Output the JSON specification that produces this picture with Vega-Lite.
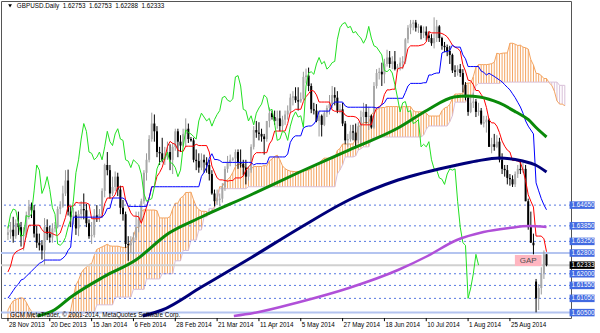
{
"$schema":"https://vega.github.io/schema/vega-lite/v6.json",
"width":570,"height":317,
"autosize":{"type":"none"},
"padding":{"left":1,"top":1,"right":29,"bottom":15},
"background":"#ffffff",
"config":{"font":"Liberation Sans","view":{"stroke":"#555555","strokeWidth":1},"axis":{"grid":false,"domain":false,"labelFont":"Liberation Sans","labelColor":"#000000","tickColor":"#000000","tickSize":3,"labelFontSize":6.3}},
"datasets":{
"bars":[
{"i":0,"o":1.635,"h":1.6385,"l":1.633,"c":1.636,"t":1.6207,"k":1.6106,"ch":1.6375},
{"i":1,"o":1.636,"h":1.64,"l":1.6335,"c":1.637,"t":1.623,"k":1.612,"ch":1.643},
{"i":2,"o":1.637,"h":1.642,"l":1.632,"c":1.6345,"t":1.627,"k":1.6135,"ch":1.645},
{"i":3,"o":1.6345,"h":1.641,"l":1.6335,"c":1.6395,"t":1.6284,"k":1.615,"ch":1.6445},
{"i":4,"o":1.6395,"h":1.644,"l":1.635,"c":1.638,"t":1.629,"k":1.616,"ch":1.6395},
{"i":5,"o":1.638,"h":1.64,"l":1.6305,"c":1.6345,"t":1.6295,"k":1.6176,"ch":1.6345},
{"i":6,"o":1.6345,"h":1.638,"l":1.629,"c":1.635,"t":1.6299,"k":1.618,"ch":1.635},
{"i":7,"o":1.635,"h":1.644,"l":1.634,"c":1.6425,"t":1.635,"k":1.619,"ch":1.6425},
{"i":8,"o":1.6425,"h":1.6485,"l":1.641,"c":1.646,"t":1.63875,"k":1.62,"ch":1.642},
{"i":9,"o":1.646,"h":1.6475,"l":1.6415,"c":1.6445,"t":1.63875,"k":1.621,"ch":1.643},
{"i":10,"o":1.6445,"h":1.6465,"l":1.634,"c":1.6355,"t":1.63875,"k":1.622,"ch":1.652},
{"i":11,"o":1.6355,"h":1.6385,"l":1.63,"c":1.632,"t":1.63875,"k":1.623,"ch":1.662},
{"i":12,"o":1.632,"h":1.6355,"l":1.629,"c":1.631,"t":1.63875,"k":1.624,"ch":1.66},
{"i":13,"o":1.631,"h":1.633,"l":1.6255,"c":1.629,"t":1.637,"k":1.6245,"ch":1.651},
{"i":14,"o":1.629,"h":1.6415,"l":1.6235,"c":1.638,"t":1.636,"k":1.6253,"ch":1.6535},
{"i":15,"o":1.638,"h":1.641,"l":1.633,"c":1.6355,"t":1.636,"k":1.6253,"ch":1.6575},
{"i":16,"o":1.6355,"h":1.6385,"l":1.632,"c":1.634,"t":1.636,"k":1.6253,"ch":1.6525},
{"i":17,"o":1.634,"h":1.6395,"l":1.632,"c":1.6375,"t":1.6355,"k":1.6253,"ch":1.6455},
{"i":18,"o":1.6375,"h":1.64,"l":1.636,"c":1.638,"t":1.635,"k":1.6253,"ch":1.643},
{"i":19,"o":1.638,"h":1.646,"l":1.6375,"c":1.645,"t":1.63475,"k":1.6253,"ch":1.6315},
{"i":20,"o":1.645,"h":1.648,"l":1.643,"c":1.646,"t":1.63575,"k":1.6253,"ch":1.631},
{"i":21,"o":1.646,"h":1.654,"l":1.6455,"c":1.651,"t":1.63875,"k":1.626,"ch":1.632},
{"i":22,"o":1.651,"h":1.66,"l":1.65,"c":1.656,"t":1.64175,"k":1.627,"ch":1.634},
{"i":23,"o":1.656,"h":1.6602,"l":1.6425,"c":1.644,"t":1.6461,"k":1.629,"ch":1.638},
{"i":24,"o":1.644,"h":1.646,"l":1.638,"c":1.642,"t":1.6461,"k":1.6303,"ch":1.641},
{"i":25,"o":1.642,"h":1.6455,"l":1.639,"c":1.6425,"t":1.6461,"k":1.64185,"ch":1.648},
{"i":26,"o":1.6425,"h":1.644,"l":1.635,"c":1.6375,"t":1.6476,"k":1.64185,"ch":1.659},
{"i":27,"o":1.6375,"h":1.6445,"l":1.6345,"c":1.643,"t":1.64735,"k":1.64185,"ch":1.664},
{"i":28,"o":1.643,"h":1.648,"l":1.641,"c":1.645,"t":1.64735,"k":1.64185,"ch":1.672},
{"i":29,"o":1.645,"h":1.651,"l":1.641,"c":1.6445,"t":1.64735,"k":1.64185,"ch":1.678},
{"i":30,"o":1.6445,"h":1.647,"l":1.638,"c":1.6395,"t":1.64735,"k":1.64185,"ch":1.675},
{"i":31,"o":1.6395,"h":1.641,"l":1.6335,"c":1.6345,"t":1.64685,"k":1.64185,"ch":1.667},
{"i":32,"o":1.6345,"h":1.64,"l":1.6315,"c":1.635,"t":1.64125,"k":1.64185,"ch":1.6665},
{"i":33,"o":1.635,"h":1.645,"l":1.634,"c":1.6425,"t":1.64125,"k":1.64185,"ch":1.664},
{"i":34,"o":1.6425,"h":1.6465,"l":1.64,"c":1.642,"t":1.64125,"k":1.64185,"ch":1.665},
{"i":35,"o":1.642,"h":1.645,"l":1.64,"c":1.643,"t":1.64125,"k":1.64185,"ch":1.667},
{"i":36,"o":1.643,"h":1.653,"l":1.6415,"c":1.652,"t":1.64225,"k":1.64185,"ch":1.664},
{"i":37,"o":1.652,"h":1.6625,"l":1.6495,"c":1.662,"t":1.647,"k":1.643,"ch":1.669},
{"i":38,"o":1.662,"h":1.667,"l":1.658,"c":1.66,"t":1.64925,"k":1.64525,"ch":1.675},
{"i":39,"o":1.66,"h":1.662,"l":1.649,"c":1.651,"t":1.64925,"k":1.64525,"ch":1.671},
{"i":40,"o":1.651,"h":1.6575,"l":1.65,"c":1.6535,"t":1.64925,"k":1.64925,"ch":1.6695},
{"i":41,"o":1.6535,"h":1.6595,"l":1.652,"c":1.6575,"t":1.6505,"k":1.64925,"ch":1.674},
{"i":42,"o":1.6575,"h":1.659,"l":1.65,"c":1.6525,"t":1.6535,"k":1.64925,"ch":1.676},
{"i":43,"o":1.6525,"h":1.654,"l":1.643,"c":1.6455,"t":1.6535,"k":1.64925,"ch":1.672},
{"i":44,"o":1.6455,"h":1.6485,"l":1.6405,"c":1.643,"t":1.65375,"k":1.64925,"ch":1.6715},
{"i":45,"o":1.643,"h":1.644,"l":1.63,"c":1.6315,"t":1.6485,"k":1.6485,"ch":1.664},
{"i":46,"o":1.6315,"h":1.6345,"l":1.625,"c":1.631,"t":1.646,"k":1.646,"ch":1.6635},
{"i":47,"o":1.631,"h":1.6345,"l":1.628,"c":1.632,"t":1.6435,"k":1.646,"ch":1.661},
{"i":48,"o":1.632,"h":1.636,"l":1.625,"c":1.634,"t":1.64225,"k":1.646,"ch":1.664},
{"i":49,"o":1.634,"h":1.644,"l":1.633,"c":1.638,"t":1.64225,"k":1.646,"ch":1.663},
{"i":50,"o":1.638,"h":1.644,"l":1.636,"c":1.641,"t":1.642,"k":1.646,"ch":1.662},
{"i":51,"o":1.641,"h":1.649,"l":1.64,"c":1.648,"t":1.6395,"k":1.646,"ch":1.6585},
{"i":52,"o":1.648,"h":1.66,"l":1.647,"c":1.659,"t":1.6425,"k":1.646,"ch":1.651},
{"i":53,"o":1.659,"h":1.6665,"l":1.656,"c":1.664,"t":1.64575,"k":1.646,"ch":1.648},
{"i":54,"o":1.664,"h":1.6735,"l":1.663,"c":1.672,"t":1.64925,"k":1.64925,"ch":1.6485},
{"i":55,"o":1.672,"h":1.6822,"l":1.671,"c":1.678,"t":1.6536,"k":1.6536,"ch":1.649},
{"i":56,"o":1.678,"h":1.6815,"l":1.671,"c":1.675,"t":1.6536,"k":1.6536,"ch":1.6535},
{"i":57,"o":1.675,"h":1.677,"l":1.665,"c":1.667,"t":1.6576,"k":1.6536,"ch":1.6605},
{"i":58,"o":1.667,"h":1.669,"l":1.662,"c":1.6665,"t":1.6591,"k":1.6536,"ch":1.663},
{"i":59,"o":1.6665,"h":1.6725,"l":1.663,"c":1.664,"t":1.6611,"k":1.6536,"ch":1.664},
{"i":60,"o":1.664,"h":1.669,"l":1.662,"c":1.665,"t":1.6646,"k":1.6536,"ch":1.6645},
{"i":61,"o":1.665,"h":1.671,"l":1.664,"c":1.667,"t":1.6691,"k":1.6536,"ch":1.667},
{"i":62,"o":1.667,"h":1.67,"l":1.66,"c":1.664,"t":1.6711,"k":1.6536,"ch":1.663},
{"i":63,"o":1.664,"h":1.6705,"l":1.6585,"c":1.669,"t":1.67035,"k":1.6536,"ch":1.6625},
{"i":64,"o":1.669,"h":1.676,"l":1.6675,"c":1.675,"t":1.67,"k":1.6536,"ch":1.661},
{"i":65,"o":1.675,"h":1.676,"l":1.665,"c":1.671,"t":1.66775,"k":1.6536,"ch":1.6575},
{"i":66,"o":1.671,"h":1.6735,"l":1.667,"c":1.6695,"t":1.66725,"k":1.6536,"ch":1.66},
{"i":67,"o":1.6695,"h":1.676,"l":1.669,"c":1.674,"t":1.66725,"k":1.6536,"ch":1.669},
{"i":68,"o":1.674,"h":1.68,"l":1.669,"c":1.676,"t":1.66925,"k":1.6536,"ch":1.6755},
{"i":69,"o":1.676,"h":1.678,"l":1.6705,"c":1.672,"t":1.66925,"k":1.6536,"ch":1.6745},
{"i":70,"o":1.672,"h":1.6728,"l":1.671,"c":1.6715,"t":1.66925,"k":1.6536,"ch":1.674},
{"i":71,"o":1.6715,"h":1.6725,"l":1.663,"c":1.664,"t":1.66925,"k":1.6536,"ch":1.673},
{"i":72,"o":1.664,"h":1.668,"l":1.66,"c":1.6635,"t":1.67,"k":1.6536,"ch":1.672},
{"i":73,"o":1.6635,"h":1.6665,"l":1.659,"c":1.661,"t":1.6695,"k":1.6536,"ch":1.679},
{"i":74,"o":1.661,"h":1.6665,"l":1.66,"c":1.664,"t":1.6695,"k":1.6576,"ch":1.682},
{"i":75,"o":1.664,"h":1.666,"l":1.659,"c":1.663,"t":1.6695,"k":1.6591,"ch":1.6805},
{"i":76,"o":1.663,"h":1.665,"l":1.659,"c":1.662,"t":1.6695,"k":1.6611,"ch":1.679},
{"i":77,"o":1.662,"h":1.664,"l":1.656,"c":1.6585,"t":1.667,"k":1.6646,"ch":1.68},
{"i":78,"o":1.6585,"h":1.66,"l":1.6505,"c":1.651,"t":1.66165,"k":1.66635,"ch":1.677},
{"i":79,"o":1.651,"h":1.6525,"l":1.646,"c":1.648,"t":1.65925,"k":1.6641,"ch":1.6795},
{"i":80,"o":1.648,"h":1.6525,"l":1.6465,"c":1.6485,"t":1.657,"k":1.6641,"ch":1.6815},
{"i":81,"o":1.6485,"h":1.651,"l":1.646,"c":1.649,"t":1.65625,"k":1.66375,"ch":1.683},
{"i":82,"o":1.649,"h":1.655,"l":1.6475,"c":1.6535,"t":1.65625,"k":1.663,"ch":1.688},
{"i":83,"o":1.6535,"h":1.6615,"l":1.652,"c":1.6605,"t":1.656,"k":1.663,"ch":1.6885},
{"i":84,"o":1.6605,"h":1.6655,"l":1.659,"c":1.663,"t":1.65575,"k":1.663,"ch":1.687},
{"i":85,"o":1.663,"h":1.666,"l":1.6615,"c":1.664,"t":1.656,"k":1.663,"ch":1.6865},
{"i":86,"o":1.664,"h":1.665,"l":1.6635,"c":1.6645,"t":1.656,"k":1.663,"ch":1.6875},
{"i":87,"o":1.6645,"h":1.668,"l":1.6615,"c":1.667,"t":1.657,"k":1.663,"ch":1.696},
{"i":88,"o":1.667,"h":1.668,"l":1.6605,"c":1.663,"t":1.657,"k":1.663,"ch":1.6965},
{"i":89,"o":1.663,"h":1.668,"l":1.661,"c":1.6625,"t":1.657,"k":1.663,"ch":1.6925},
{"i":90,"o":1.6625,"h":1.664,"l":1.658,"c":1.661,"t":1.65775,"k":1.663,"ch":1.6835},
{"i":91,"o":1.661,"h":1.664,"l":1.6545,"c":1.6575,"t":1.66,"k":1.663,"ch":1.683},
{"i":92,"o":1.6575,"h":1.6615,"l":1.656,"c":1.66,"t":1.66125,"k":1.663,"ch":1.679},
{"i":93,"o":1.66,"h":1.67,"l":1.659,"c":1.669,"t":1.66225,"k":1.663,"ch":1.681},
{"i":94,"o":1.669,"h":1.677,"l":1.668,"c":1.6755,"t":1.66575,"k":1.662,"ch":1.6775},
{"i":95,"o":1.6755,"h":1.679,"l":1.6725,"c":1.6745,"t":1.66675,"k":1.6625,"ch":1.682},
{"i":96,"o":1.6745,"h":1.6785,"l":1.6715,"c":1.674,"t":1.66675,"k":1.6625,"ch":1.684},
{"i":97,"o":1.674,"h":1.676,"l":1.671,"c":1.673,"t":1.66675,"k":1.6625,"ch":1.6855},
{"i":98,"o":1.673,"h":1.674,"l":1.666,"c":1.672,"t":1.66675,"k":1.6625,"ch":1.689},
{"i":99,"o":1.672,"h":1.679,"l":1.671,"c":1.679,"t":1.66675,"k":1.6625,"ch":1.688},
{"i":100,"o":1.679,"h":1.6842,"l":1.6765,"c":1.682,"t":1.6701,"k":1.6651,"ch":1.683},
{"i":101,"o":1.682,"h":1.683,"l":1.6795,"c":1.6805,"t":1.6716,"k":1.6651,"ch":1.6835},
{"i":102,"o":1.6805,"h":1.683,"l":1.6775,"c":1.679,"t":1.6751,"k":1.6651,"ch":1.678},
{"i":103,"o":1.679,"h":1.683,"l":1.676,"c":1.68,"t":1.6751,"k":1.6651,"ch":1.6715},
{"i":104,"o":1.68,"h":1.683,"l":1.675,"c":1.677,"t":1.6751,"k":1.6651,"ch":1.672},
{"i":105,"o":1.677,"h":1.681,"l":1.675,"c":1.6795,"t":1.6751,"k":1.6651,"ch":1.675},
{"i":106,"o":1.6795,"h":1.683,"l":1.6775,"c":1.6815,"t":1.6751,"k":1.6651,"ch":1.6745},
{"i":107,"o":1.6815,"h":1.685,"l":1.6795,"c":1.683,"t":1.678,"k":1.66625,"ch":1.6715},
{"i":108,"o":1.683,"h":1.6895,"l":1.682,"c":1.688,"t":1.68225,"k":1.67075,"ch":1.677},
{"i":109,"o":1.688,"h":1.6905,"l":1.685,"c":1.6885,"t":1.68275,"k":1.6725,"ch":1.6805},
{"i":110,"o":1.6885,"h":1.692,"l":1.686,"c":1.687,"t":1.6835,"k":1.67325,"ch":1.6825},
{"i":111,"o":1.687,"h":1.692,"l":1.683,"c":1.6865,"t":1.6835,"k":1.67325,"ch":1.6805},
{"i":112,"o":1.6865,"h":1.69,"l":1.686,"c":1.6875,"t":1.6835,"k":1.67325,"ch":1.681},
{"i":113,"o":1.6875,"h":1.698,"l":1.687,"c":1.696,"t":1.6865,"k":1.67625,"ch":1.6765},
{"i":114,"o":1.696,"h":1.6992,"l":1.6935,"c":1.6965,"t":1.68835,"k":1.67685,"ch":1.6925},
{"i":115,"o":1.6965,"h":1.6996,"l":1.6905,"c":1.6925,"t":1.68955,"k":1.67705,"ch":1.6975},
{"i":116,"o":1.6925,"h":1.6935,"l":1.682,"c":1.6835,"t":1.6908,"k":1.67705,"ch":1.698},
{"i":117,"o":1.6835,"h":1.686,"l":1.6815,"c":1.683,"t":1.69055,"k":1.6778,"ch":1.697},
{"i":118,"o":1.683,"h":1.6855,"l":1.6785,"c":1.679,"t":1.68905,"k":1.6793,"ch":1.701},
{"i":119,"o":1.679,"h":1.683,"l":1.673,"c":1.681,"t":1.6863,"k":1.6828,"ch":1.7035},
{"i":120,"o":1.681,"h":1.6815,"l":1.673,"c":1.6775,"t":1.6863,"k":1.6828,"ch":1.701},
{"i":121,"o":1.6775,"h":1.683,"l":1.677,"c":1.682,"t":1.6863,"k":1.6828,"ch":1.702},
{"i":122,"o":1.682,"h":1.685,"l":1.6805,"c":1.684,"t":1.6863,"k":1.6828,"ch":1.699},
{"i":123,"o":1.684,"h":1.689,"l":1.6815,"c":1.6855,"t":1.6863,"k":1.6828,"ch":1.7},
{"i":124,"o":1.6855,"h":1.6925,"l":1.684,"c":1.689,"t":1.68325,"k":1.6853,"ch":1.7015},
{"i":125,"o":1.689,"h":1.692,"l":1.685,"c":1.688,"t":1.68275,"k":1.6863,"ch":1.702},
{"i":126,"o":1.688,"h":1.6905,"l":1.682,"c":1.683,"t":1.68275,"k":1.6863,"ch":1.7105},
{"i":127,"o":1.683,"h":1.6855,"l":1.682,"c":1.6835,"t":1.68275,"k":1.6863,"ch":1.715},
{"i":128,"o":1.6835,"h":1.686,"l":1.677,"c":1.678,"t":1.68275,"k":1.6863,"ch":1.7165},
{"i":129,"o":1.678,"h":1.679,"l":1.67,"c":1.6715,"t":1.68125,"k":1.6848,"ch":1.717},
{"i":130,"o":1.6715,"h":1.674,"l":1.669,"c":1.672,"t":1.68075,"k":1.6843,"ch":1.715},
{"i":131,"o":1.672,"h":1.6775,"l":1.671,"c":1.675,"t":1.68075,"k":1.6843,"ch":1.7155},
{"i":132,"o":1.675,"h":1.6775,"l":1.6715,"c":1.6745,"t":1.68075,"k":1.6843,"ch":1.713},
{"i":133,"o":1.6745,"h":1.678,"l":1.669,"c":1.6715,"t":1.6805,"k":1.6843,"ch":1.7135},
{"i":134,"o":1.6715,"h":1.6785,"l":1.6705,"c":1.677,"t":1.67975,"k":1.6843,"ch":1.712},
{"i":135,"o":1.677,"h":1.683,"l":1.6695,"c":1.6805,"t":1.6775,"k":1.6843,"ch":1.711},
{"i":136,"o":1.6805,"h":1.686,"l":1.678,"c":1.6825,"t":1.6775,"k":1.6843,"ch":1.709},
{"i":137,"o":1.6825,"h":1.6855,"l":1.678,"c":1.6805,"t":1.6775,"k":1.6843,"ch":1.711},
{"i":138,"o":1.6805,"h":1.6845,"l":1.6755,"c":1.681,"t":1.6775,"k":1.6843,"ch":1.7155},
{"i":139,"o":1.681,"h":1.6815,"l":1.676,"c":1.6765,"t":1.6775,"k":1.6843,"ch":1.711},
{"i":140,"o":1.6765,"h":1.694,"l":1.676,"c":1.6925,"t":1.6815,"k":1.6843,"ch":1.708},
{"i":141,"o":1.6925,"h":1.699,"l":1.6915,"c":1.6975,"t":1.684,"k":1.684,"ch":1.7075},
{"i":142,"o":1.6975,"h":1.6995,"l":1.695,"c":1.698,"t":1.6845,"k":1.68425,"ch":1.706},
{"i":143,"o":1.698,"h":1.7015,"l":1.6925,"c":1.697,"t":1.6855,"k":1.68525,"ch":1.7045},
{"i":144,"o":1.697,"h":1.703,"l":1.6935,"c":1.701,"t":1.68925,"k":1.686,"ch":1.6985},
{"i":145,"o":1.701,"h":1.7065,"l":1.7,"c":1.7035,"t":1.691,"k":1.68775,"ch":1.698},
{"i":146,"o":1.7035,"h":1.706,"l":1.6995,"c":1.701,"t":1.691,"k":1.68775,"ch":1.699},
{"i":147,"o":1.701,"h":1.704,"l":1.699,"c":1.702,"t":1.69125,"k":1.68775,"ch":1.6975},
{"i":148,"o":1.702,"h":1.706,"l":1.6985,"c":1.699,"t":1.69125,"k":1.68775,"ch":1.693},
{"i":149,"o":1.699,"h":1.701,"l":1.698,"c":1.7,"t":1.699,"k":1.68775,"ch":1.688},
{"i":150,"o":1.7,"h":1.7035,"l":1.6985,"c":1.7015,"t":1.6995,"k":1.68775,"ch":1.6825},
{"i":151,"o":1.7015,"h":1.704,"l":1.699,"c":1.702,"t":1.6995,"k":1.68775,"ch":1.686},
{"i":152,"o":1.702,"h":1.711,"l":1.701,"c":1.7105,"t":1.70225,"k":1.69,"ch":1.6865},
{"i":153,"o":1.7105,"h":1.716,"l":1.709,"c":1.715,"t":1.707,"k":1.6925,"ch":1.6825},
{"i":154,"o":1.715,"h":1.718,"l":1.7125,"c":1.7165,"t":1.708,"k":1.6935,"ch":1.683},
{"i":155,"o":1.7165,"h":1.718,"l":1.714,"c":1.717,"t":1.708,"k":1.6935,"ch":1.678},
{"i":156,"o":1.717,"h":1.718,"l":1.7135,"c":1.715,"t":1.708,"k":1.6935,"ch":1.6785},
{"i":157,"o":1.715,"h":1.7165,"l":1.713,"c":1.7155,"t":1.708,"k":1.6935,"ch":1.6795},
{"i":158,"o":1.7155,"h":1.716,"l":1.7105,"c":1.713,"t":1.70825,"k":1.6935,"ch":1.669},
{"i":159,"o":1.713,"h":1.7155,"l":1.711,"c":1.7135,"t":1.7085,"k":1.69375,"ch":1.67},
{"i":160,"o":1.7135,"h":1.7155,"l":1.71,"c":1.712,"t":1.7095,"k":1.69375,"ch":1.669},
{"i":161,"o":1.712,"h":1.7135,"l":1.7095,"c":1.711,"t":1.7135,"k":1.69675,"ch":1.671},
{"i":162,"o":1.711,"h":1.7125,"l":1.708,"c":1.709,"t":1.713,"k":1.69675,"ch":1.664},
{"i":163,"o":1.709,"h":1.719,"l":1.707,"c":1.711,"t":1.713,"k":1.69725,"ch":1.6605},
{"i":164,"o":1.711,"h":1.718,"l":1.7095,"c":1.7155,"t":1.713,"k":1.6975,"ch":1.66},
{"i":165,"o":1.7155,"h":1.716,"l":1.7095,"c":1.711,"t":1.713,"k":1.6975,"ch":1.657},
{"i":166,"o":1.711,"h":1.7115,"l":1.7065,"c":1.708,"t":1.71275,"k":1.70525,"ch":1.6565},
{"i":167,"o":1.708,"h":1.7095,"l":1.7055,"c":1.7075,"t":1.71225,"k":1.70575,"ch":1.6545},
{"i":168,"o":1.7075,"h":1.7085,"l":1.704,"c":1.706,"t":1.7115,"k":1.70575,"ch":1.6585},
{"i":169,"o":1.706,"h":1.708,"l":1.701,"c":1.7045,"t":1.71,"k":1.70625,"ch":1.6605},
{"i":170,"o":1.7045,"h":1.705,"l":1.6975,"c":1.6985,"t":1.70825,"k":1.70825,"ch":1.66},
{"i":171,"o":1.6985,"h":1.7005,"l":1.696,"c":1.698,"t":1.7075,"k":1.7075,"ch":1.6605},
{"i":172,"o":1.698,"h":1.7005,"l":1.6965,"c":1.699,"t":1.707,"k":1.7075,"ch":1.648},
{"i":173,"o":1.699,"h":1.701,"l":1.696,"c":1.6975,"t":1.706,"k":1.7075,"ch":1.638},
{"i":174,"o":1.6975,"h":1.699,"l":1.69,"c":1.693,"t":1.70075,"k":1.7045,"ch":1.632},
{"i":175,"o":1.693,"h":1.694,"l":1.687,"c":1.688,"t":1.69825,"k":1.703,"ch":1.631},
{"i":176,"o":1.688,"h":1.689,"l":1.681,"c":1.6825,"t":1.69475,"k":1.7,"ch":1.6105},
{"i":177,"o":1.6825,"h":1.688,"l":1.682,"c":1.686,"t":1.6945,"k":1.7,"ch":1.6145},
{"i":178,"o":1.686,"h":1.69,"l":1.684,"c":1.6865,"t":1.693,"k":1.7,"ch":1.62},
{"i":179,"o":1.6865,"h":1.6875,"l":1.6805,"c":1.6825,"t":1.69075,"k":1.7,"ch":1.6275},
{"i":180,"o":1.6825,"h":1.686,"l":1.681,"c":1.683,"t":1.69075,"k":1.7,"ch":1.62333},
{"i":181,"o":1.683,"h":1.684,"l":1.6775,"c":1.678,"t":1.68925,"k":1.69825},
{"i":182,"o":1.678,"h":1.681,"l":1.6765,"c":1.6785,"t":1.68775,"k":1.69775},
{"i":183,"o":1.6785,"h":1.681,"l":1.6745,"c":1.6795,"t":1.68425,"k":1.69675},
{"i":184,"o":1.6795,"h":1.68,"l":1.669,"c":1.669,"t":1.6795,"k":1.6974},
{"i":185,"o":1.669,"h":1.6725,"l":1.6665,"c":1.67,"t":1.67825,"k":1.6968},
{"i":186,"o":1.67,"h":1.674,"l":1.6675,"c":1.669,"t":1.67825,"k":1.6962},
{"i":187,"o":1.669,"h":1.6735,"l":1.6685,"c":1.671,"t":1.677,"k":1.6955},
{"i":188,"o":1.671,"h":1.6725,"l":1.663,"c":1.664,"t":1.6745,"k":1.6948},
{"i":189,"o":1.664,"h":1.6665,"l":1.6585,"c":1.6605,"t":1.67125,"k":1.6941},
{"i":190,"o":1.6605,"h":1.662,"l":1.6575,"c":1.66,"t":1.66925,"k":1.693},
{"i":191,"o":1.66,"h":1.662,"l":1.6545,"c":1.657,"t":1.66775,"k":1.692},
{"i":192,"o":1.657,"h":1.6585,"l":1.654,"c":1.6565,"t":1.667,"k":1.691},
{"i":193,"o":1.6565,"h":1.658,"l":1.6535,"c":1.6545,"t":1.66375,"k":1.6895},
{"i":194,"o":1.6545,"h":1.6595,"l":1.6535,"c":1.6585,"t":1.66375,"k":1.688},
{"i":195,"o":1.6585,"h":1.662,"l":1.657,"c":1.6605,"t":1.6635,"k":1.6862},
{"i":196,"o":1.6605,"h":1.664,"l":1.6585,"c":1.66,"t":1.663,"k":1.6844},
{"i":197,"o":1.66,"h":1.663,"l":1.659,"c":1.6605,"t":1.66,"k":1.682},
{"i":198,"o":1.6605,"h":1.662,"l":1.648,"c":1.648,"t":1.656,"k":1.679},
{"i":199,"o":1.648,"h":1.649,"l":1.637,"c":1.638,"t":1.6505,"k":1.677},
{"i":200,"o":1.638,"h":1.644,"l":1.632,"c":1.632,"t":1.648,"k":1.6755},
{"i":201,"o":1.632,"h":1.6355,"l":1.6275,"c":1.631,"t":1.64575,"k":1.674},
{"i":202,"o":1.617,"h":1.618,"l":1.6051,"c":1.6105,"t":1.63455,"k":1.6551},
{"i":203,"o":1.6105,"h":1.616,"l":1.606,"c":1.6145,"t":1.63455,"k":1.652},
{"i":204,"o":1.6145,"h":1.6225,"l":1.612,"c":1.62,"t":1.63455,"k":1.649},
{"i":205,"o":1.62,"h":1.629,"l":1.618,"c":1.6275,"t":1.6335,"k":1.6466},
{"i":206,"o":1.62753,"h":1.62753,"l":1.62288,"c":1.62333,"t":1.6285,"k":1.6447}
],
"cloud":[
{"i":0,"a":1.606,"b":1.595},{"i":1,"a":1.608,"b":1.595},{"i":2,"a":1.6095,"b":1.595},{"i":3,"a":1.61,"b":1.595},{"i":4,"a":1.6105,"b":1.595},{"i":5,"a":1.6107,"b":1.595},{"i":6,"a":1.6105,"b":1.595},{"i":7,"a":1.609,"b":1.595},{"i":8,"a":1.607,"b":1.595},{"i":9,"a":1.6055,"b":1.595},
{"i":10,"a":1.6035,"b":1.595},{"i":11,"a":1.6015,"b":1.595},{"i":12,"a":1.6005,"b":1.595},{"i":13,"a":1.6,"b":1.595},{"i":14,"a":1.6,"b":1.595},{"i":15,"a":1.6,"b":1.595},{"i":16,"a":1.6,"b":1.595},{"i":17,"a":1.6,"b":1.595},{"i":18,"a":1.6,"b":1.595},{"i":19,"a":1.6,"b":1.595},
{"i":20,"a":1.6,"b":1.595},{"i":21,"a":1.6005,"b":1.595},{"i":22,"a":1.6015,"b":1.595},{"i":23,"a":1.603,"b":1.595},{"i":24,"a":1.606,"b":1.595},{"i":25,"a":1.611,"b":1.595},{"i":26,"a":1.61565,"b":1.6},{"i":27,"a":1.6175,"b":1.602},{"i":28,"a":1.62025,"b":1.6037},{"i":29,"a":1.6217,"b":1.605},
{"i":30,"a":1.6225,"b":1.605},{"i":31,"a":1.62355,"b":1.605},{"i":32,"a":1.62395,"b":1.605},{"i":33,"a":1.627,"b":1.605},{"i":34,"a":1.62938,"b":1.608},{"i":35,"a":1.62988,"b":1.608},{"i":36,"a":1.63038,"b":1.608},{"i":37,"a":1.63088,"b":1.608},{"i":38,"a":1.63138,"b":1.608},{"i":39,"a":1.63075,"b":1.608},
{"i":40,"a":1.63065,"b":1.608},{"i":41,"a":1.63065,"b":1.611},{"i":42,"a":1.63065,"b":1.611},{"i":43,"a":1.6304,"b":1.611},{"i":44,"a":1.63015,"b":1.611},{"i":45,"a":1.63003,"b":1.611},{"i":46,"a":1.63053,"b":1.611},{"i":47,"a":1.63238,"b":1.611},{"i":48,"a":1.63438,"b":1.614},{"i":49,"a":1.63755,"b":1.614},
{"i":50,"a":1.6382,"b":1.614},{"i":51,"a":1.64398,"b":1.614},{"i":52,"a":1.64473,"b":1.614},{"i":53,"a":1.6446,"b":1.618},{"i":54,"a":1.6446,"b":1.618},{"i":55,"a":1.6446,"b":1.618},{"i":56,"a":1.6446,"b":1.618},{"i":57,"a":1.64435,"b":1.618},{"i":58,"a":1.64155,"b":1.618},{"i":59,"a":1.64155,"b":1.62},
{"i":60,"a":1.64155,"b":1.62},{"i":61,"a":1.64155,"b":1.62},{"i":62,"a":1.64205,"b":1.62},{"i":63,"a":1.645,"b":1.62},{"i":64,"a":1.64725,"b":1.625},{"i":65,"a":1.64725,"b":1.625},{"i":66,"a":1.64925,"b":1.625},{"i":67,"a":1.64988,"b":1.629},{"i":68,"a":1.65138,"b":1.629},{"i":69,"a":1.65138,"b":1.629},
{"i":70,"a":1.6515,"b":1.633},{"i":71,"a":1.6485,"b":1.633},{"i":72,"a":1.646,"b":1.633},{"i":73,"a":1.64475,"b":1.6369},{"i":74,"a":1.64413,"b":1.6369},{"i":75,"a":1.64413,"b":1.642},{"i":76,"a":1.644,"b":1.642},{"i":77,"a":1.64275,"b":1.64525},{"i":78,"a":1.64425,"b":1.64525},{"i":79,"a":1.64588,"b":1.64525},
{"i":80,"a":1.64925,"b":1.6485},{"i":81,"a":1.6536,"b":1.65285},{"i":82,"a":1.6536,"b":1.65285},{"i":83,"a":1.6556,"b":1.65285},{"i":84,"a":1.65635,"b":1.65285},{"i":85,"a":1.65735,"b":1.65285},{"i":86,"a":1.6591,"b":1.65285},{"i":87,"a":1.66135,"b":1.65285},{"i":88,"a":1.66235,"b":1.65285},{"i":89,"a":1.66198,"b":1.65285},
{"i":90,"a":1.6618,"b":1.65285},{"i":91,"a":1.66068,"b":1.65285},{"i":92,"a":1.66043,"b":1.6536},{"i":93,"a":1.66043,"b":1.6536},{"i":94,"a":1.66143,"b":1.6536},{"i":95,"a":1.66143,"b":1.6536},{"i":96,"a":1.66143,"b":1.6536},{"i":97,"a":1.66143,"b":1.6536},{"i":98,"a":1.6618,"b":1.6536},{"i":99,"a":1.66155,"b":1.6536},
{"i":100,"a":1.66355,"b":1.6536},{"i":101,"a":1.6643,"b":1.6536},{"i":102,"a":1.6653,"b":1.6536},{"i":103,"a":1.6658,"b":1.6536},{"i":104,"a":1.664,"b":1.6536},{"i":105,"a":1.66168,"b":1.6536},{"i":106,"a":1.66055,"b":1.6536},{"i":107,"a":1.66,"b":1.6536},{"i":108,"a":1.65963,"b":1.6536},{"i":109,"a":1.6595,"b":1.6536},
{"i":110,"a":1.65938,"b":1.6536},{"i":111,"a":1.6595,"b":1.6536},{"i":112,"a":1.6595,"b":1.6536},{"i":113,"a":1.66,"b":1.6536},{"i":114,"a":1.66,"b":1.6536},{"i":115,"a":1.66,"b":1.6536},{"i":116,"a":1.66038,"b":1.6536},{"i":117,"a":1.6615,"b":1.6536},{"i":118,"a":1.66213,"b":1.6536},{"i":119,"a":1.66263,"b":1.6536},
{"i":120,"a":1.66388,"b":1.6536},{"i":121,"a":1.66463,"b":1.6536},{"i":122,"a":1.66463,"b":1.6536},{"i":123,"a":1.66463,"b":1.6536},{"i":124,"a":1.66463,"b":1.6536},{"i":125,"a":1.66463,"b":1.6536},{"i":126,"a":1.6676,"b":1.6586},{"i":127,"a":1.66835,"b":1.6601},{"i":128,"a":1.6701,"b":1.6621},{"i":129,"a":1.6701,"b":1.6651},
{"i":130,"a":1.6701,"b":1.6651},{"i":131,"a":1.6701,"b":1.6651},{"i":132,"a":1.6701,"b":1.6651},{"i":133,"a":1.67213,"b":1.6655},{"i":134,"a":1.6765,"b":1.66775},{"i":135,"a":1.67763,"b":1.66825},{"i":136,"a":1.67838,"b":1.669},{"i":137,"a":1.67838,"b":1.669},{"i":138,"a":1.67838,"b":1.669},{"i":139,"a":1.68138,"b":1.672},
{"i":140,"a":1.6826,"b":1.6726},{"i":141,"a":1.6833,"b":1.6728},{"i":142,"a":1.68393,"b":1.6728},{"i":143,"a":1.68418,"b":1.6728},{"i":144,"a":1.68418,"b":1.6728},{"i":145,"a":1.68455,"b":1.6728},{"i":146,"a":1.68455,"b":1.6728},{"i":147,"a":1.68455,"b":1.6728},{"i":148,"a":1.68455,"b":1.6728},{"i":149,"a":1.68455,"b":1.6728},
{"i":150,"a":1.68428,"b":1.6728},{"i":151,"a":1.68453,"b":1.6728},{"i":152,"a":1.68453,"b":1.6728},{"i":153,"a":1.68453,"b":1.6728},{"i":154,"a":1.68453,"b":1.6728},{"i":155,"a":1.68303,"b":1.6728},{"i":156,"a":1.68253,"b":1.6728},{"i":157,"a":1.68253,"b":1.6728},{"i":158,"a":1.68253,"b":1.6728},{"i":159,"a":1.6824,"b":1.67355},
{"i":160,"a":1.68203,"b":1.6758},{"i":161,"a":1.6809,"b":1.67705},{"i":162,"a":1.6809,"b":1.67705},{"i":163,"a":1.6809,"b":1.67705},{"i":164,"a":1.6809,"b":1.67705},{"i":165,"a":1.6809,"b":1.67705},{"i":166,"a":1.6829,"b":1.67705},{"i":167,"a":1.684,"b":1.67705},{"i":168,"a":1.68438,"b":1.67705},{"i":169,"a":1.68538,"b":1.67875},
{"i":170,"a":1.68763,"b":1.681},{"i":171,"a":1.68938,"b":1.68625},{"i":172,"a":1.68938,"b":1.68625},{"i":173,"a":1.6895,"b":1.68625},{"i":174,"a":1.6895,"b":1.68625},{"i":175,"a":1.69338,"b":1.68625},{"i":176,"a":1.69363,"b":1.68775},{"i":177,"a":1.69363,"b":1.68775},{"i":178,"a":1.69613,"b":1.69},{"i":179,"a":1.69975,"b":1.6925},
{"i":180,"a":1.70075,"b":1.6935},{"i":181,"a":1.70075,"b":1.6935},{"i":182,"a":1.70075,"b":1.6935},{"i":183,"a":1.70075,"b":1.6935},{"i":184,"a":1.70088,"b":1.6935},{"i":185,"a":1.70113,"b":1.6935},{"i":186,"a":1.70163,"b":1.6935},{"i":187,"a":1.70513,"b":1.6935},{"i":188,"a":1.70488,"b":1.6935},{"i":189,"a":1.70513,"b":1.694},
{"i":190,"a":1.70525,"b":1.694},{"i":191,"a":1.70525,"b":1.694},{"i":192,"a":1.709,"b":1.694},{"i":193,"a":1.709,"b":1.694},{"i":194,"a":1.70863,"b":1.694},{"i":195,"a":1.70813,"b":1.694},{"i":196,"a":1.70825,"b":1.694},{"i":197,"a":1.7075,"b":1.694},{"i":198,"a":1.70725,"b":1.694},{"i":199,"a":1.70675,"b":1.694},
{"i":200,"a":1.70263,"b":1.694},{"i":201,"a":1.70063,"b":1.694},{"i":202,"a":1.69738,"b":1.694},{"i":203,"a":1.69725,"b":1.694},{"i":204,"a":1.6965,"b":1.694},{"i":205,"a":1.69538,"b":1.694},{"i":206,"a":1.69538,"b":1.694},{"i":207,"a":1.69375,"b":1.694},{"i":208,"a":1.69275,"b":1.694},{"i":209,"a":1.6905,"b":1.694},
{"i":210,"a":1.68675,"b":1.694},{"i":211,"a":1.6855,"b":1.69275},{"i":212,"a":1.6855,"b":1.69275},{"i":213,"a":1.68488,"b":1.69275}
],
"green":[{"i":11.3,"p":1.60369},{"i":17.7,"p":1.60601},{"i":24.1,"p":1.61103},{"i":36.5,"p":1.61875},{"i":48.9,"p":1.62531},{"i":61.6,"p":1.63573},{"i":74,"p":1.64191},{"i":92.8,"p":1.65041},{"i":111.6,"p":1.65929},{"i":130.4,"p":1.66778},{"i":149.2,"p":1.67628},{"i":160.5,"p":1.68323},{"i":170.6,"p":1.68825},{"i":175.5,"p":1.68863},{"i":180.4,"p":1.68825},{"i":187.9,"p":1.68593},{"i":194.3,"p":1.68245},{"i":199.2,"p":1.67937},{"i":201.8,"p":1.67666},{"i":206,"p":1.6728}],
"navy":[{"i":51.5,"p":1.60369},{"i":59,"p":1.60601},{"i":74,"p":1.61489},{"i":92.8,"p":1.62609},{"i":111.6,"p":1.63767},{"i":130.4,"p":1.64848},{"i":149.2,"p":1.6562},{"i":171.7,"p":1.66199},{"i":179.3,"p":1.66353},{"i":187.9,"p":1.6647},{"i":196.9,"p":1.66353},{"i":201.8,"p":1.66199},{"i":206,"p":1.65929}],
"violet":[{"i":86.4,"p":1.60369},{"i":94,"p":1.60485},{"i":111.6,"p":1.6091},{"i":130.4,"p":1.6145},{"i":149.2,"p":1.62145},{"i":160.5,"p":1.62686},{"i":171.7,"p":1.63303},{"i":181.9,"p":1.63612},{"i":191.7,"p":1.63767},{"i":199.2,"p":1.63844},{"i":206,"p":1.63805}],
"dates":[{"i":0,"lab":"28 Nov 2013"},{"i":16,"lab":"20 Dec 2013"},{"i":32,"lab":"15 Jan 2014"},{"i":48,"lab":"6 Feb 2014"},{"i":64,"lab":"28 Feb 2014"},{"i":80,"lab":"21 Mar 2014"},{"i":96,"lab":"11 Apr 2014"},{"i":112,"lab":"5 May 2014"},{"i":128,"lab":"27 May 2014"},{"i":144,"lab":"18 Jun 2014"},{"i":160,"lab":"10 Jul 2014"},{"i":176,"lab":"1 Aug 2014"},{"i":192,"lab":"25 Aug 2014"}],
"boxes":[{"p":1.6465,"lab":"1.64650","dark":0},{"p":1.6385,"lab":"1.63850","dark":0},{"p":1.6325,"lab":"1.63250","dark":0},{"p":1.628,"lab":"1.62800","dark":0},{"p":1.62333,"lab":"1.62333","dark":1},{"p":1.62,"lab":"1.62000","dark":0},{"p":1.6155,"lab":"1.61550","dark":0},{"p":1.6105,"lab":"1.61050","dark":0},{"p":1.605,"lab":"1.60500","dark":0}]
},
"layer":[
{"data":{"name":"cloud"},"mark":{"type":"rule","strokeWidth":1,"clip":true},
 "encoding":{"x":{"field":"i","type":"quantitative","scale":{"domain":[-0.75,213.45],"nice":false,"zero":false},"axis":null},
 "y":{"field":"a","type":"quantitative","scale":{"domain":[1.60292,1.72531],"nice":false,"zero":false},"axis":null},
 "y2":{"field":"b"},
 "color":{"condition":{"test":"datum.b > datum.a","value":"#d8bfd8"},"value":"#f4a460"}}},
{"data":{"name":"cloud"},"mark":{"type":"line","color":"#f4a460","strokeWidth":1,"clip":true},
 "encoding":{"x":{"field":"i","type":"quantitative","scale":{"domain":[-0.75,213.45],"nice":false,"zero":false},"axis":null},
 "y":{"field":"a","type":"quantitative","scale":{"domain":[1.60292,1.72531],"nice":false,"zero":false},"axis":null}}},
{"data":{"name":"cloud"},"mark":{"type":"line","color":"#d8bfd8","strokeWidth":1,"clip":true},
 "encoding":{"x":{"field":"i","type":"quantitative","scale":{"domain":[-0.75,213.45],"nice":false,"zero":false},"axis":null},
 "y":{"field":"b","type":"quantitative","scale":{"domain":[1.60292,1.72531],"nice":false,"zero":false},"axis":null}}},
{"data":{"values":[{"p":1.6465},{"p":1.6385},{"p":1.6325},{"p":1.62},{"p":1.6155},{"p":1.6105}]},"mark":{"type":"rule","color":"#5577e0","strokeWidth":1,"strokeDash":[2,3]},
 "encoding":{"y":{"field":"p","type":"quantitative","scale":{"domain":[1.60292,1.72531],"nice":false,"zero":false},"axis":null}}},
{"data":{"values":[{"p":1.628},{"p":1.605}]},"mark":{"type":"rule","color":"#b4c4f0","strokeWidth":2},
 "encoding":{"y":{"field":"p","type":"quantitative","scale":{"domain":[1.60292,1.72531],"nice":false,"zero":false},"axis":null}}},
{"data":{"values":[{"p":1.62333}]},"mark":{"type":"rule","color":"#d0d0d0","strokeWidth":2},
 "encoding":{"y":{"field":"p","type":"quantitative","scale":{"domain":[1.60292,1.72531],"nice":false,"zero":false},"axis":null}}},
{"data":{"name":"bars"},"mark":{"type":"rule","strokeWidth":1,"clip":true},
 "encoding":{"x":{"field":"i","type":"quantitative","scale":{"domain":[-0.75,213.45],"nice":false,"zero":false},"axis":null},
 "y":{"field":"l","type":"quantitative","scale":{"domain":[1.60292,1.72531],"nice":false,"zero":false},"axis":null},
 "y2":{"field":"h"},
 "color":{"condition":{"test":"datum.c < datum.o","value":"#000000"},"value":"#9a9a9a"}}},
{"data":{"name":"bars"},"mark":{"type":"bar","size":2,"orient":"vertical","clip":true},
 "encoding":{"x":{"field":"i","type":"quantitative","scale":{"domain":[-0.75,213.45],"nice":false,"zero":false},"axis":null},
 "y":{"field":"o","type":"quantitative","scale":{"domain":[1.60292,1.72531],"nice":false,"zero":false},
   "axis":{"orient":"right","values":[1.72145,1.71295,1.70445,1.69595,1.68745,1.67895,1.67045,1.6622,1.6537,1.6387,1.60255],"labelExpr":"format(datum.value,'.5f')","title":null,"tickSize":3,"labelPadding":2,"labelBaseline":"middle","labelOverlap":false,"labelBound":false,"labelFlush":false}},
 "y2":{"field":"c"},
 "color":{"condition":{"test":"datum.c < datum.o","value":"#000000"},"value":"#a8a8a8"}}},
{"data":{"name":"bars"},"mark":{"type":"line","color":"#ff0000","strokeWidth":1,"clip":true},
 "encoding":{"x":{"field":"i","type":"quantitative","scale":{"domain":[-0.75,213.45],"nice":false,"zero":false},"axis":null},
 "y":{"field":"t","type":"quantitative","scale":{"domain":[1.60292,1.72531],"nice":false,"zero":false},"axis":null}}},
{"data":{"name":"bars"},"mark":{"type":"line","color":"#0000ff","strokeWidth":1,"clip":true},
 "encoding":{"x":{"field":"i","type":"quantitative","scale":{"domain":[-0.75,213.45],"nice":false,"zero":false},"axis":null},
 "y":{"field":"k","type":"quantitative","scale":{"domain":[1.60292,1.72531],"nice":false,"zero":false},"axis":null}}},
{"data":{"name":"bars"},"mark":{"type":"line","color":"#22e022","strokeWidth":1,"clip":true},
 "encoding":{"x":{"field":"i","type":"quantitative","scale":{"domain":[-0.75,213.45],"nice":false,"zero":false},"axis":null},
 "y":{"field":"ch","type":"quantitative","scale":{"domain":[1.60292,1.72531],"nice":false,"zero":false},"axis":null}}},
{"data":{"name":"green"},"mark":{"type":"line","color":"#0a8a0a","strokeWidth":3,"clip":true,"interpolate":"monotone"},
 "encoding":{"x":{"field":"i","type":"quantitative","scale":{"domain":[-0.75,213.45],"nice":false,"zero":false},"axis":null},
 "y":{"field":"p","type":"quantitative","scale":{"domain":[1.60292,1.72531],"nice":false,"zero":false},"axis":null}}},
{"data":{"name":"navy"},"mark":{"type":"line","color":"#00007a","strokeWidth":3,"clip":true,"interpolate":"monotone"},
 "encoding":{"x":{"field":"i","type":"quantitative","scale":{"domain":[-0.75,213.45],"nice":false,"zero":false},"axis":null},
 "y":{"field":"p","type":"quantitative","scale":{"domain":[1.60292,1.72531],"nice":false,"zero":false},"axis":null}}},
{"data":{"name":"violet"},"mark":{"type":"line","color":"#b050d8","strokeWidth":2.5,"clip":true,"interpolate":"monotone"},
 "encoding":{"x":{"field":"i","type":"quantitative","scale":{"domain":[-0.75,213.45],"nice":false,"zero":false},"axis":null},
 "y":{"field":"p","type":"quantitative","scale":{"domain":[1.60292,1.72531],"nice":false,"zero":false},"axis":null}}},
{"data":{"values":[{"lab":"GAP"}]},"mark":{"type":"rect","color":"#ffb6c1"},
 "encoding":{"x":{"datum":193.9,"type":"quantitative","scale":{"domain":[-0.75,213.45],"nice":false,"zero":false},"axis":null},"x2":{"datum":204.1},
 "y":{"datum":1.62724,"type":"quantitative","scale":{"domain":[1.60292,1.72531],"nice":false,"zero":false},"axis":null},"y2":{"datum":1.623}}},
{"data":{"values":[{"lab":"GAP"}]},"mark":{"type":"text","color":"#505050","fontSize":8,"align":"center","baseline":"middle"},
 "encoding":{"x":{"datum":199,"type":"quantitative","scale":{"domain":[-0.75,213.45],"nice":false,"zero":false},"axis":null},
 "y":{"datum":1.62512,"type":"quantitative","scale":{"domain":[1.60292,1.72531],"nice":false,"zero":false},"axis":null},"text":{"field":"lab"}}},
{"data":{"name":"boxes"},"mark":{"type":"point","shape":"M-1,-0.3H1V0.3H-1Z","size":625,"filled":true,"opacity":1},
 "encoding":{"x":{"datum":219.6,"type":"quantitative","scale":{"domain":[-0.75,213.45],"nice":false,"zero":false},"axis":null},
 "y":{"field":"p","type":"quantitative","scale":{"domain":[1.60292,1.72531],"nice":false,"zero":false},"axis":null},
 "color":{"condition":{"test":"datum.dark == 1","value":"#000000"},"value":"#4169e1"}}},
{"data":{"name":"boxes"},"mark":{"type":"text","color":"#ffffff","fontSize":6.3,"align":"left","baseline":"middle"},
 "encoding":{"x":{"datum":215.6,"type":"quantitative","scale":{"domain":[-0.75,213.45],"nice":false,"zero":false},"axis":null},
 "y":{"field":"p","type":"quantitative","scale":{"domain":[1.60292,1.72531],"nice":false,"zero":false},"axis":null},"text":{"field":"lab"}}},
{"data":{"name":"dates"},"mark":{"type":"rule","color":"#000000","strokeWidth":1},
 "encoding":{"x":{"field":"i","type":"quantitative","scale":{"domain":[-0.75,213.45],"nice":false,"zero":false},"axis":null},
 "y":{"datum":1.60292,"type":"quantitative","scale":{"domain":[1.60292,1.72531],"nice":false,"zero":false},"axis":null},"y2":{"datum":1.6017}}},
{"data":{"name":"dates"},"mark":{"type":"text","color":"#000000","fontSize":6.3,"align":"left","baseline":"middle","dx":1},
 "encoding":{"x":{"field":"i","type":"quantitative","scale":{"domain":[-0.75,213.45],"nice":false,"zero":false},"axis":null},
 "y":{"datum":1.6001,"type":"quantitative","scale":{"domain":[1.60292,1.72531],"nice":false,"zero":false},"axis":null},"text":{"field":"lab"}}},
{"data":{"values":[{"s":"x"}]},"mark":{"type":"point","shape":"triangle-down","size":14,"filled":true,"color":"#000000","opacity":1},
 "encoding":{"x":{"datum":0.8,"type":"quantitative","scale":{"domain":[-0.75,213.45],"nice":false,"zero":false},"axis":null},
 "y":{"datum":1.7234,"type":"quantitative","scale":{"domain":[1.60292,1.72531],"nice":false,"zero":false},"axis":null}}},
{"data":{"values":[{"s":"GBPUSD.Daily\u00a0\u00a01.62753\u00a0\u00a01.62753\u00a0\u00a01.62288\u00a0\u00a01.62333"}]},"mark":{"type":"text","color":"#000000","fontSize":6.3,"align":"left","baseline":"middle"},
 "encoding":{"x":{"datum":3.4,"type":"quantitative","scale":{"domain":[-0.75,213.45],"nice":false,"zero":false},"axis":null},
 "y":{"datum":1.7234,"type":"quantitative","scale":{"domain":[1.60292,1.72531],"nice":false,"zero":false},"axis":null},"text":{"field":"s"}}},
{"data":{"values":[{"s":"GCM MetaTrader, © 2001-2014, MetaQuotes Software Corp."}]},"mark":{"type":"text","color":"#000000","fontSize":6.3,"align":"left","baseline":"middle"},
 "encoding":{"x":{"datum":0.9,"type":"quantitative","scale":{"domain":[-0.75,213.45],"nice":false,"zero":false},"axis":null},
 "y":{"datum":1.6039,"type":"quantitative","scale":{"domain":[1.60292,1.72531],"nice":false,"zero":false},"axis":null},"text":{"field":"s"}}}
]
}
